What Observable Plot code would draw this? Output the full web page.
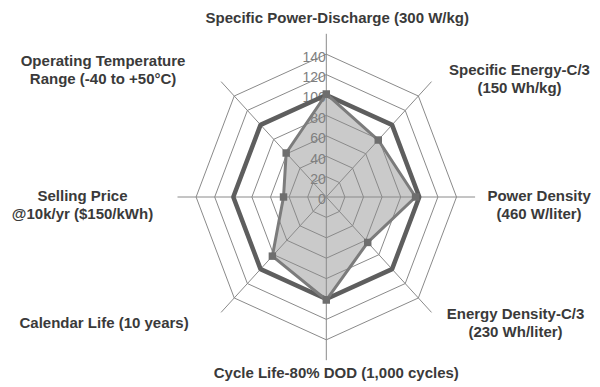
<!DOCTYPE html>
<html>
<head>
<meta charset="utf-8">
<script src="https://cdn.jsdelivr.net/npm/d3@7"></script>
<script src="https://cdn.jsdelivr.net/npm/@observablehq/plot@0.6"></script>
<style>
  html, body { margin: 0; padding: 0; background: #fff; }
  #chart { width: 600px; height: 387px; }
</style>
</head>
<body>
<div id="chart"></div>
<script>
// Categories, clockwise starting at the top
const categories = [
  "Specific Power-Discharge (300 W/kg)",
  "Specific Energy-C/3\n(150 Wh/kg)",
  "Power Density\n(460 W/liter)",
  "Energy Density-C/3\n(230 Wh/liter)",
  "Cycle Life-80% DOD (1,000 cycles)",
  "Calendar Life (10 years)",
  "Selling Price\n@10k/yr ($150/kWh)",
  "Operating Temperature\nRange (-40 to +50°C)"
];
const targetValues = [100, 100, 100, 100, 100, 100, 100, 100];
const actualValues = [101, 79, 96, 63, 101, 82, 46, 61];
const ringTicks = [20, 40, 60, 80, 100, 120, 140];
const tickLabels = ["0", "20", "40", "60", "80", "100", "120", "140"];
const axisMax = 160;

// label offsets (pixels) from the end of each spoke
const labelOffsets = [[11, -17], [88, -3], [64, 7.5], [84, 9.5], [10, 12], [-117, 10], [-95, 7.5], [-118, -12.5]];

const n = categories.length;
const ang = i => (i % n) * 2 * Math.PI / n;
const pt = (i, r) => ({x: r * Math.sin(ang(i)), y: r * Math.cos(ang(i))});

const ringPts = ringTicks.flatMap(r => d3.range(n + 1).map(i => ({...pt(i, r), ring: r})));
const spokes = categories.map((c, i) => ({x1: 0, y1: 0, x2: pt(i, axisMax).x, y2: pt(i, axisMax).y}));
const targetPts = d3.range(n + 1).map(i => pt(i, targetValues[i % n]));
const actualPts = d3.range(n + 1).map(i => pt(i, actualValues[i % n]));
const actualDots = actualValues.map((v, i) => pt(i, v));
const tickData = tickLabels.map(t => ({x: 0, y: +t, label: t}));
const labelData = categories.map((c, i) => ({...pt(i, axisMax), label: c, dx: labelOffsets[i][0], dy: labelOffsets[i][1]}));

const W = 600, H = 387;
const cx = 325.8, cy = 196.5, kx = 0.93, ky = 1.02;

const chart = Plot.plot({
  width: W, height: H,
  margin: 0,
  x: {domain: [-cx / kx, (W - cx) / kx], axis: null},
  y: {domain: [-(H - cy) / ky, cy / ky], axis: null},
  style: {fontFamily: "'Liberation Sans', Arial, sans-serif", background: "#fff"},
  marks: [
    Plot.line(actualPts, {x: "x", y: "y", fill: "#cacaca", stroke: "none"}),
    Plot.line(ringPts, {x: "x", y: "y", z: "ring", stroke: "#8a8a8a", strokeWidth: 1}),
    Plot.link(spokes, {x1: "x1", y1: "y1", x2: "x2", y2: "y2", stroke: "#8a8a8a", strokeWidth: 1}),
    Plot.text(tickData, {x: "x", y: "y", text: "label", textAnchor: "end", dx: -0.5, dy: 3, fill: "#808080", fontSize: 14}),
    Plot.line(targetPts, {x: "x", y: "y", stroke: "#5e5e5e", strokeWidth: 4.5, strokeLinejoin: "miter"}),
    Plot.line(actualPts, {x: "x", y: "y", stroke: "#7c7c7c", strokeWidth: 3, strokeLinejoin: "miter"}),
    Plot.dot(actualDots, {x: "x", y: "y", symbol: "square", r: 4.2, fill: "#6e6e6e", stroke: "none"}),
    ...labelData.map(d => Plot.text([d], {x: "x", y: "y", text: "label", dx: d.dx, dy: d.dy, fill: "#3a3a3a", fontSize: 15, fontWeight: "bold", lineHeight: 1.2, textAnchor: "middle"}))
  ]
});
document.getElementById("chart").appendChild(chart);
</script>
</body>
</html>
